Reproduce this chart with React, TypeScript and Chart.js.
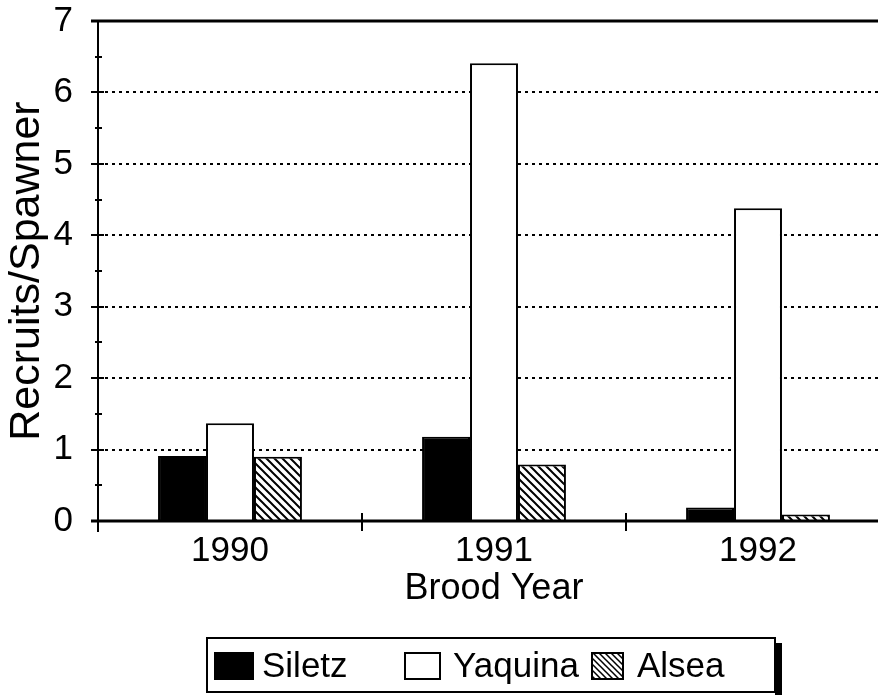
import { useEffect, useRef } from 'react';
import { Chart, registerables } from 'chart.js';

Chart.register(...registerables);

const categories = ['1990', '1991', '1992'];
const seriesNames = ['Siletz', 'Yaquina', 'Alsea'];
const siletz = [0.91, 1.18, 0.19];
const yaquina = [1.37, 6.41, 4.38];
const alsea = [0.9, 0.79, 0.09];
const yTicks = [0, 1, 2, 3, 4, 5, 6, 7];
const yMinorTicks = [0.5, 1.5, 2.5, 3.5, 4.5, 5.5, 6.5];
const xTitle = 'Brood Year';
const yTitle = 'Recruits/Spawner';

const FAMILY = "'Liberation Sans', Arial, Helvetica, sans-serif";

function makeHatch(size: number, lw: number) {
  const c = document.createElement('canvas');
  c.width = size;
  c.height = size;
  const g = c.getContext('2d')!;
  g.fillStyle = '#fff';
  g.fillRect(0, 0, size, size);
  g.strokeStyle = '#000';
  g.lineWidth = lw;
  g.beginPath();
  for (const k of [-size, 0, size]) {
    g.moveTo(k - 1, -1);
    g.lineTo(k + size + 1, size + 1);
  }
  g.stroke();
  const p = g.createPattern(c, 'repeat');
  return p as CanvasPattern;
}

export default function App() {
  const ref = useRef<HTMLCanvasElement>(null);

  useEffect(() => {
    const canvas = ref.current!;
    const ctx0 = canvas.getContext('2d')!;
    const hatch = makeHatch(8, 2);
    const hatchSmall = makeHatch(6, 1.5);

    const fills = ['#000', '#fff', hatch];

    const decor = {
      id: 'decor',
      beforeDatasetsDraw(chart: any) {
        const { ctx, chartArea: a, scales } = chart;
        const y = scales.y;
        ctx.save();
        ctx.strokeStyle = '#000';
        ctx.lineWidth = 2;
        ctx.setLineDash([3, 4]);
        for (const v of yTicks) {
          if (v === 0 || v === 7) continue;
          const py = Math.round(y.getPixelForValue(v));
          ctx.beginPath();
          ctx.moveTo(a.left, py);
          ctx.lineTo(a.right, py);
          ctx.stroke();
        }
        ctx.restore();
      },
      afterDatasetsDraw(chart: any) {
        const { ctx, chartArea: a, scales } = chart;
        const y = scales.y;
        const x = scales.x;
        ctx.save();
        ctx.strokeStyle = '#000';
        ctx.setLineDash([]);
        // top line
        ctx.lineWidth = 3;
        ctx.beginPath();
        ctx.moveTo(a.left - 7, a.top);
        ctx.lineTo(a.right, a.top);
        ctx.stroke();
        // bottom axis
        ctx.beginPath();
        ctx.moveTo(a.left - 7, a.bottom);
        ctx.lineTo(a.right, a.bottom);
        ctx.stroke();
        // left axis
        ctx.lineWidth = 2;
        ctx.beginPath();
        ctx.moveTo(a.left, a.top);
        ctx.lineTo(a.left, a.bottom + 11);
        ctx.stroke();
        // major y ticks
        for (const v of yTicks) {
          const py = Math.round(y.getPixelForValue(v));
          ctx.beginPath();
          ctx.moveTo(a.left - 7, py);
          ctx.lineTo(a.left + 6, py);
          ctx.stroke();
        }
        // minor y ticks
        for (const v of yMinorTicks) {
          const py = Math.round(y.getPixelForValue(v));
          ctx.beginPath();
          ctx.moveTo(a.left - 3, py);
          ctx.lineTo(a.left + 4, py);
          ctx.stroke();
        }
        // x ticks at category boundaries
        for (let i = 1; i <= categories.length; i++) {
          const bx = Math.round((x.getPixelForTick(i - 1) + (i < categories.length ? x.getPixelForTick(i) : 2 * a.right - x.getPixelForTick(i - 1))) / 2);
          ctx.beginPath();
          ctx.moveTo(bx, a.bottom - 8);
          ctx.lineTo(bx, a.bottom + 10);
          ctx.stroke();
        }
        ctx.restore();
      },
      afterDraw(chart: any) {
        const { ctx } = chart;
        ctx.save();
        // legend box with shadow
        ctx.fillStyle = '#000';
        ctx.fillRect(775, 643, 7, 52);
        ctx.fillStyle = '#fff';
        ctx.fillRect(207, 638, 568, 54);
        ctx.strokeStyle = '#000';
        ctx.lineWidth = 2;
        ctx.strokeRect(207, 638, 568, 54);
        const items = [
          { sx: 215, sw: 38, tx: 262 },
          { sx: 405, sw: 35, tx: 453 },
          { sx: 592, sw: 31, tx: 637 },
        ];
        const legendFills = ['#000', '#fff', hatchSmall];
        items.forEach((it, i) => {
          ctx.fillStyle = legendFills[i];
          ctx.fillRect(it.sx, 653, it.sw, 26);
          ctx.lineWidth = 2;
          ctx.strokeStyle = '#000';
          ctx.strokeRect(it.sx, 653, it.sw, 26);
          ctx.fillStyle = '#000';
          ctx.font = `35px ${FAMILY}`;
          ctx.textBaseline = 'middle';
          ctx.textAlign = 'left';
          ctx.fillText(seriesNames[i], it.tx, 667);
        });
        ctx.restore();
      },
    };

    const font = { family: FAMILY, size: 35 };

    const chart = new Chart(ctx0, {
      type: 'bar',
      data: {
        labels: categories,
        datasets: [siletz, yaquina, alsea].map((d, i) => ({
          label: seriesNames[i],
          data: d,
          backgroundColor: fills[i] as any,
          borderColor: '#000',
          borderWidth: 2,
          categoryPercentage: 0.545,
          barPercentage: 1,
        })),
      },
      options: {
        responsive: false,
        animation: false,
        devicePixelRatio: 1,
        layout: { padding: { left: 0, top: 21, right: 10, bottom: 84 } },
        plugins: { legend: { display: false }, tooltip: { enabled: false } },
        scales: {
          x: {
            grid: { display: false, drawTicks: false },
            border: { display: false },
            ticks: { color: '#000', font, padding: 9, maxRotation: 0 },
            title: { display: true, text: xTitle, color: '#000', font: { family: FAMILY, size: 36 }, padding: 0 },
            afterFit(s: any) {
              s.height = 90;
              s.paddingLeft = 0;
              s.paddingRight = 0;
            },
          },
          y: {
            min: 0,
            max: 7,
            grid: { display: false, drawTicks: false },
            border: { display: false },
            ticks: { stepSize: 1, color: '#000', font, padding: 25 },
            title: { display: true, text: yTitle, color: '#000', font: { family: FAMILY, size: 43 }, padding: { top: 1, bottom: 0 } },
            afterFit(s: any) {
              s.width = 98;
              s.paddingTop = 0;
              s.paddingBottom = 0;
            },
          },
        },
      },
      plugins: [decor],
    });
    return () => chart.destroy();
  }, []);

  return (
    <div
      style={{
        position: 'fixed',
        left: 0,
        top: 0,
        width: 878,
        height: 695,
        overflow: 'hidden',
        background: '#fff',
      }}
    >
      <canvas ref={ref} width={900} height={695} style={{ display: 'block' }} />
    </div>
  );
}
